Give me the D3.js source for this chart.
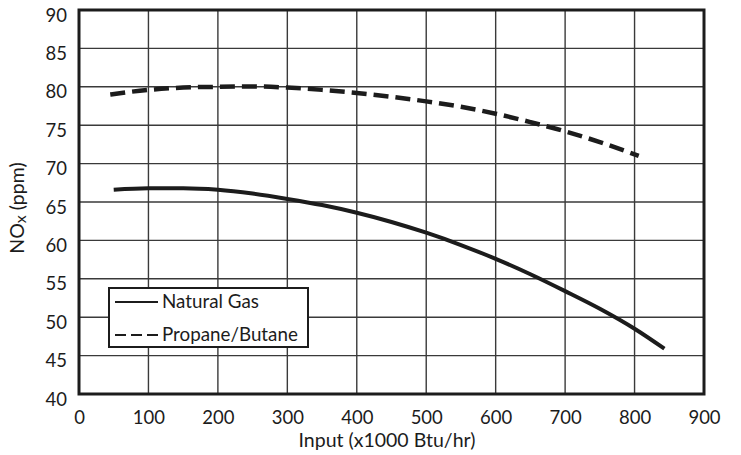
<!DOCTYPE html>
<html><head><meta charset="utf-8">
<script src="https://cdn.jsdelivr.net/npm/d3@7"></script>
<style>body{margin:0;background:#fff;} svg{display:block;}</style>
</head><body>
<svg id="c" width="741" height="455"></svg>
<script>
const xTicks = [0,100,200,300,400,500,600,700,800,900];
const yTicks = [40,45,50,55,60,65,70,75,80,85,90];
const naturalGasX = [50,100,150,200,250,300,350,400,450,500,550,600,650,700,750,800,843];
const naturalGasY = [66.6,66.8,66.8,66.6,66.1,65.4,64.6,63.6,62.4,61.0,59.4,57.6,55.6,53.4,51.1,48.5,45.9];
const propaneX = [45,100,150,200,250,300,350,400,450,500,550,600,650,700,750,806];
const propaneY = [79.0,79.6,79.9,80.0,80.05,79.9,79.6,79.2,78.7,78.1,77.4,76.5,75.4,74.2,72.8,71.0];
const seriesNames = ["Natural Gas","Propane/Butane"];

const font = "Lato, 'Open Sans', sans-serif";
const ink = "#1c1c1c";
const svg = d3.select("#c");
const L=79,R=704,T=10,B=394;
const x = d3.scaleLinear().domain([0,900]).range([L,R]);
const y = d3.scaleLinear().domain([40,90]).range([B,T]);

// grid
const g = svg.append("g");
g.selectAll("line.v").data(xTicks).join("line")
  .attr("x1",d=>x(d)).attr("x2",d=>x(d)).attr("y1",T).attr("y2",B)
  .attr("stroke","#3a3a3a").attr("stroke-width",1.4);
g.selectAll("line.h").data(yTicks).join("line")
  .attr("y1",d=>y(d)).attr("y2",d=>y(d)).attr("x1",L).attr("x2",R)
  .attr("stroke","#3a3a3a").attr("stroke-width",1.4);

// axes labels via d3 axes (no tick lines)
const xAxis = svg.append("g").attr("transform",`translate(0,${B})`)
  .call(d3.axisBottom(x).tickValues(xTicks).tickSize(0).tickPadding(17));
const yAxis = svg.append("g").attr("transform",`translate(${L},0)`)
  .call(d3.axisLeft(y).tickValues(yTicks).tickSize(0).tickPadding(12));
[xAxis,yAxis].forEach(a=>{
  a.select(".domain").remove();
  a.selectAll("text").attr("font-family",font).attr("font-size",18.5).attr("fill",ink);
});
yAxis.selectAll("text").attr("dy","0.6em");

// border
svg.append("rect").attr("x",L).attr("y",T).attr("width",R-L).attr("height",B-T)
  .attr("fill","none").attr("stroke",ink).attr("stroke-width",3);

// curves
const line = d3.line().x(d=>x(d[0])).y(d=>y(d[1])).curve(d3.curveMonotoneX);
const ng = naturalGasX.map((v,i)=>[v,naturalGasY[i]]);
const pb = propaneX.map((v,i)=>[v,propaneY[i]]);
svg.append("path").attr("d",line(ng)).attr("fill","none").attr("stroke",ink).attr("stroke-width",4);
svg.append("path").attr("d",line(pb)).attr("fill","none").attr("stroke",ink).attr("stroke-width",4.5)
  .attr("stroke-dasharray","15,7");

// legend
const lg = svg.append("g");
lg.append("rect").attr("x",109).attr("y",288).attr("width",199).attr("height",59)
  .attr("fill","#fff").attr("stroke",ink).attr("stroke-width",2);
lg.append("line").attr("x1",115).attr("x2",158).attr("y1",302).attr("y2",302)
  .attr("stroke",ink).attr("stroke-width",2.2);
lg.append("line").attr("x1",115).attr("x2",158).attr("y1",335).attr("y2",335)
  .attr("stroke",ink).attr("stroke-width",2.2).attr("stroke-dasharray","11,5");
lg.selectAll("text").data(seriesNames).join("text")
  .attr("x",162).attr("y",(d,i)=>308+i*33)
  .attr("font-family",font).attr("font-size",18.8).attr("fill",ink).text(d=>d);

// titles
svg.append("text").attr("x",387).attr("y",447).attr("text-anchor","middle")
  .attr("font-family",font).attr("font-size",19.5).attr("fill",ink).text("Input (x1000 Btu/hr)");
const yt = svg.append("text").attr("transform","translate(24,208) rotate(-90)")
  .attr("text-anchor","middle").attr("font-family",font).attr("font-size",19.5).attr("fill",ink);
yt.append("tspan").text("NO");
yt.append("tspan").attr("font-size",16).attr("dy",2).text("x");
yt.append("tspan").attr("dy",-2).text(" (ppm)");
</script>
</body></html>
